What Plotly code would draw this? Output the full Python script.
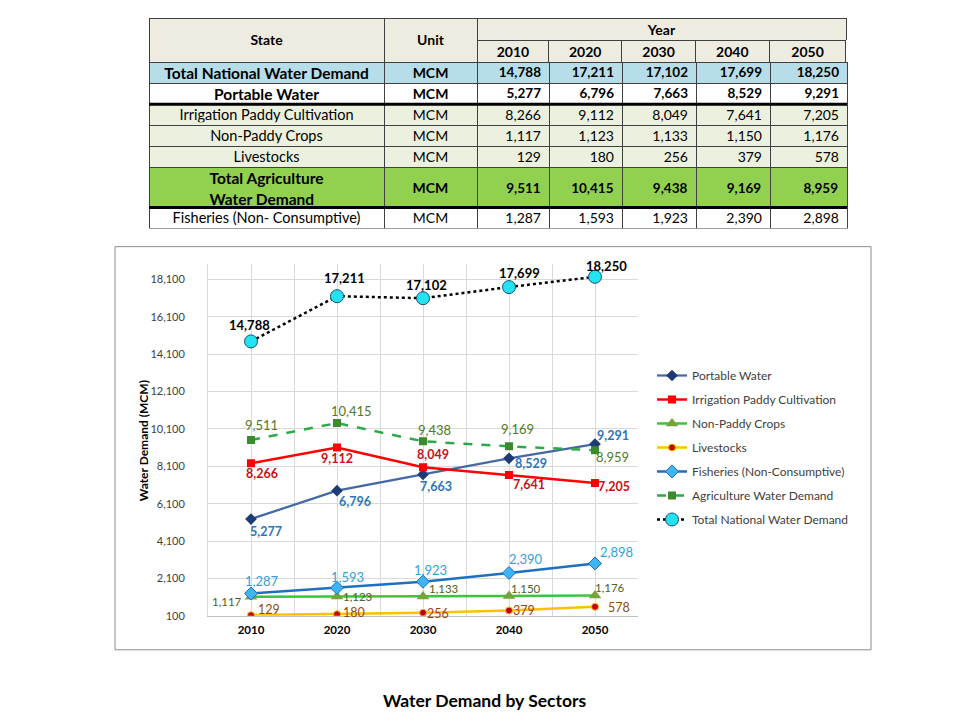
import plotly.graph_objects as go

# ---------------- data ----------------
years = ["2010", "2020", "2030", "2040", "2050"]
row_names = ["Total National Water Demand", "Portable Water", "Irrigation Paddy Cultivation",
             "Non-Paddy Crops", "Livestocks", "Total Agriculture<br>Water Demand",
             "Fisheries (Non- Consumptive)"]
units = ["MCM"] * 7

total_national = [14788, 17211, 17102, 17699, 18250]
portable_water = [5277, 6796, 7663, 8529, 9291]
irrigation_paddy = [8266, 9112, 8049, 7641, 7205]
non_paddy = [1117, 1123, 1133, 1150, 1176]
livestocks = [129, 180, 256, 379, 578]
agriculture_total = [9511, 10415, 9438, 9169, 8959]
fisheries = [1287, 1593, 1923, 2390, 2898]

y_ticks = [100, 2100, 4100, 6100, 8100, 10100, 12100, 14100, 16100, 18100]

FONT = "Lato, 'Open Sans', sans-serif"
W, H = 960, 720
OFF_X, OFF_Y, H_EFF = 8, 8, 712


def px(x):
    return (x - OFF_X) / W


def py(y):
    return 1 - (y - OFF_Y) / H_EFF


# ---------------- table ----------------
table_rows = [total_national, portable_water, irrigation_paddy, non_paddy,
              livestocks, agriculture_total, fisheries]
bold_rows = {0, 1, 5}
row_fill = ["#B7DEE8", "#FFFFFF", "#EBF1DE", "#EBF1DE", "#EBF1DE", "#92D050", "#FFFFFF"]
row_height = [21, 21, 21, 21, 21, 40, 21]
col_edges = [149, 384, 477, 549, 622, 696, 770, 847]
col_widths = [b - a for a, b in zip(col_edges[:-1], col_edges[1:])]
HEAD_FILL = "#EEECE1"
LINE = "#404040"
CLEAR = "rgba(0,0,0,0)"
TFS = 14
ALIGN = ["center", "center", "right", "right", "right", "right", "right"]
TEXT_LIFT = 3

fig = go.Figure()


def add_table_row(values, x0, x1, top, height, widths, fill, weight, align, line=LINE, size=TFS):
    fig.add_trace(go.Table(
        domain=dict(x=[px(x0), px(x1)], y=[py(top + height), py(top)]),
        columnwidth=widths,
        header=dict(values=values, fill_color=fill, line=dict(color=line, width=1),
                    font=dict(family=FONT, size=size, color="black", weight=weight),
                    align=align, height=height),
        cells=dict(values=[[] for _ in values]),
    ))


# header: State / Unit (merged 2 rows), Year (merged 5 cols), years
add_table_row(["", ""], col_edges[0], col_edges[2], 18, 44, col_widths[:2], HEAD_FILL, 700, "center")
add_table_row(["State", "Unit"], col_edges[0], col_edges[2], 26, 21, col_widths[:2], CLEAR, 700,
              "center", line=CLEAR)
add_table_row([""], col_edges[2], col_edges[7], 18, 22, [1], HEAD_FILL, 700, "center")
add_table_row(["Year"], col_edges[2], col_edges[7], 16, 21, [1], CLEAR, 700, "center", line=CLEAR)
add_table_row([""] * 5, col_edges[2], col_edges[7], 40, 22, col_widths[2:], HEAD_FILL, 700, "center")
add_table_row(years, col_edges[2], col_edges[7], 38, 21, col_widths[2:], CLEAR, 700, "center",
              line=CLEAR)

# body rows
top = 62
for r in range(7):
    b = r in bold_rows
    w = 700 if b else 400
    name_size = 15.5 if b else 14.5
    num_size = 13.5 if b else 14
    nums = [f"{v:,}" for v in table_rows[r]]
    add_table_row([""] * 7, col_edges[0], col_edges[7], top, row_height[r], col_widths,
                  row_fill[r], w, ALIGN)
    if row_height[r] > 21:
        add_table_row([row_names[r]], col_edges[0], col_edges[1], top - 6, row_height[r] + 8,
                      col_widths[:1], CLEAR, w, "center", line=CLEAR, size=name_size)
        add_table_row([units[r]] + nums, col_edges[1], col_edges[7], top + 7, 21,
                      col_widths[1:], CLEAR, w, ALIGN[1:], line=CLEAR,
                      size=[14] + [num_size] * 5)
    else:
        add_table_row([row_names[r], units[r]] + nums, col_edges[0], col_edges[7], top - TEXT_LIFT,
                      row_height[r], col_widths, CLEAR, w, ALIGN, line=CLEAR,
                      size=[name_size, 14] + [num_size] * 5)
    top += row_height[r]

# ---------------- chart ----------------
x = list(range(len(years)))

# label offsets (pixels, right / down from the point) and styles
series = [
    dict(name="Portable Water", y=portable_water, line=dict(color="#4468A6", width=2.25),
         marker=dict(symbol="diamond", size=9, color="#1F3B73"),
         tcolor="#2E75B6", weight=700, tsize=12.5,
         off=[(15, 12), (18, 11), (13, 12), (22, 5), (18, -9)]),
    dict(name="Irrigation Paddy Cultivation", y=irrigation_paddy, line=dict(color="#FF0000", width=2.5),
         marker=dict(symbol="square", size=8, color="#FF0000"),
         tcolor="#C8101A", weight=700, tsize=12.5,
         off=[(11, 10), (0, 11), (10, -13), (20, 10), (19, 3)]),
    dict(name="Non-Paddy Crops", y=non_paddy, line=dict(color="#3CC43C", width=2.5),
         marker=dict(symbol="triangle-up", size=11, color="#77A33B"),
         tcolor="#4F6228", weight=400, tsize=11.5,
         off=[(-24, 5), (21, 0), (21, -8), (17, -8), (15, -8)]),
    dict(name="Livestocks", y=livestocks, line=dict(color="#FFC000", width=2.5),
         marker=dict(symbol="circle", size=7, color="#C00000", line=dict(color="#FFC000", width=1)),
         tcolor="#984807", weight=400, tsize=12.5,
         off=[(18, -6), (17, -2), (15, 1), (15, 0), (24, 1)]),
    dict(name="Fisheries (Non-Consumptive)", y=fisheries, line=dict(color="#1F6FC1", width=2.5),
         marker=dict(symbol="diamond", size=10, color="#3DB5F5", line=dict(color="#1F6FC1", width=1)),
         tcolor="#2FA3DA", weight=400, tsize=13,
         off=[(11, -13), (10, -11), (7, -12), (17, -14), (21, -11)]),
    dict(name="Agriculture Water Demand", y=agriculture_total, line=dict(color="#2DA84A", width=2.5, dash="dash"),
         marker=dict(symbol="square", size=8, color="#3B8A2E"),
         tcolor="#4F7A28", weight=400, tsize=13,
         off=[(10, -15), (14, -12), (11, -11), (8, -17), (17, 7)]),
    dict(name="Total National Water Demand", y=total_national, line=dict(color="#000000", width=2.5, dash="dot"),
         marker=dict(symbol="circle", size=13, color="#22E3F0", line=dict(color="#1F4E79", width=1)),
         tcolor="#000000", weight=700, tsize=13,
         off=[(-2, -16), (7, -18), (3, -13), (10, -14), (11, -11)]),
]

annotations = []
for i, s in enumerate(series):
    fig.add_trace(go.Scatter(
        x=x, y=s["y"], name=s["name"], mode="lines+markers",
        line=s["line"], marker=s["marker"],
        legendgroup=f"g{i}", xaxis="x", yaxis="y",
    ))
    for xi, v, (dx, dy) in zip(x, s["y"], s["off"]):
        annotations.append(dict(
            x=xi, y=v, xref="x", yref="y", text=f"{v:,}", showarrow=False,
            xanchor="center", yanchor="middle", xshift=dx, yshift=-dy,
            font=dict(family=FONT, size=s["tsize"], color=s["tcolor"], weight=s["weight"]),
        ))

annotations += [
    dict(text="Water Demand (MCM)", x=px(143), y=py(440), xref="paper", yref="paper",
         showarrow=False, textangle=-90, xanchor="center", yanchor="middle",
         font=dict(family=FONT, size=12, color="black", weight=700)),
    dict(text="Water Demand by Sectors", x=px(484), y=py(699), xref="paper", yref="paper",
         showarrow=False, xanchor="center", yanchor="middle",
         font=dict(family=FONT, size=17.5, color="black", weight=700)),
]

fig.update_layout(
    width=W, height=H, margin=dict(l=0, r=0, t=0, b=0),
    paper_bgcolor="white", plot_bgcolor="white",
    font=dict(family=FONT, size=12, color="#404040"),
    xaxis=dict(domain=[px(208), px(638)], range=[-0.5, 4.5],
               tickvals=x, ticktext=years, ticklabelstandoff=3,
               tickfont=dict(family=FONT, size=11.5, color="black", weight=700),
               showgrid=False, zeroline=False,
               showline=True, linecolor="#BFBFBF", linewidth=1,
               minor=dict(tick0=-0.5, dtick=0.5, showgrid=True, gridcolor="#D9D9D9", gridwidth=1),
               ticks="", fixedrange=True),
    yaxis=dict(domain=[py(614), py(263)], range=[100, 18950],
               tickvals=y_ticks, tickformat=",", ticklabelstandoff=20,
               tickfont=dict(family=FONT, size=11, color="#404040"),
               showgrid=True, gridcolor="#D9D9D9", gridwidth=1,
               zeroline=False, showline=True, linecolor="#D9D9D9", ticks="",
               fixedrange=True),
    legend=dict(x=px(652), y=py(360), xanchor="left", yanchor="top",
                font=dict(family=FONT, size=12, color="#404040"),
                traceorder="grouped", tracegroupgap=5, bgcolor="rgba(0,0,0,0)"),
    showlegend=True,
    shapes=[
        dict(type="rect", xref="paper", yref="paper", x0=px(115), x1=px(871), y0=py(648), y1=py(246),
             line=dict(color="#8C8C8C", width=1), fillcolor="rgba(0,0,0,0)", layer="below"),
        dict(type="line", xref="paper", yref="paper", x0=px(149), x1=px(847), y0=py(104), y1=py(104),
             line=dict(color="black", width=3)),
        dict(type="line", xref="paper", yref="paper", x0=px(149), x1=px(847), y0=py(207), y1=py(207),
             line=dict(color="black", width=3)),
    ],
    annotations=annotations,
)

fig.write_html("out.html")
